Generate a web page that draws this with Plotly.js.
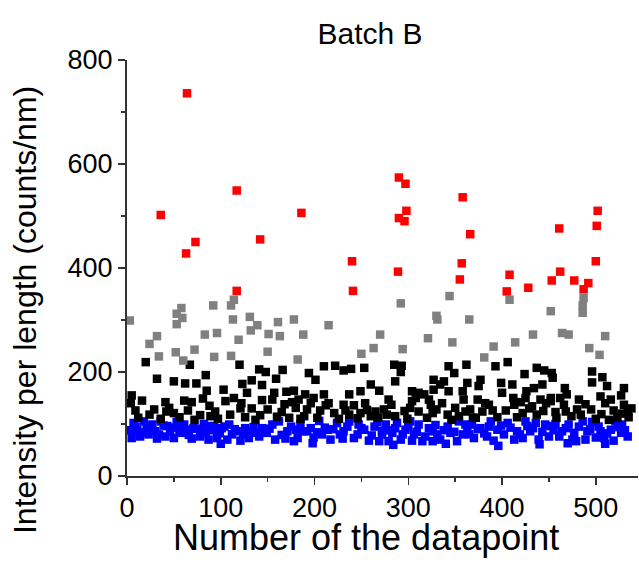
<!DOCTYPE html>
<html>
<head>
<meta charset="utf-8">
<script src="https://cdn.plot.ly/plotly-3.0.1.min.js"></script>
<style>html,body{margin:0;padding:0;background:#fff;}</style>
</head>
<body>
<div id="chart" style="width:639px;height:569px;"></div>
<script>
// Red points (highest intensities)
const redX = [64,117,36,186,73,142,63,240,117,241,290,297,298,290,296,358,366,289,357,355,408,461,502,501,500,462,453,477,492,487,405,428];
const redY = [736,549,502,506,450,455,428,413,356,356,574,562,510,496,490,536,465,393,409,378,387,476,510,481,413,393,376,376,371,359,355,362];

// Gray points
const grayX = [3,58,53,59,53,92,32,24,83,34,52,60,72,93,
  114,111,113,131,139,161,178,96,132,151,163,119,111,150,182,
  215,188,270,263,250,
  292,344,330,331,365,321,347,294,
  408,452,433,414,391,381,
  487,486,486,464,471,510,493,504];
const grayY = [299,323,312,304,292,328,269,254,272,230,238,222,243,229,
  339,328,301,306,290,296,301,275,280,273,269,262,231,239,224,
  290,272,272,246,235,
  332,346,308,301,301,265,257,244,
  339,317,272,257,249,228,
  342,328,314,275,272,269,246,233];

// Black points
const blackX = [20,67,32,50,62,74,84,85,5,4,9,29,41,61,69,81,42,50,78,89,
  120,141,148,166,159,123,133,144,103,128,157,170,178,105,122,144,155,176,94,121,133,142,165,173,
  210,222,231,239,253,194,201,260,249,237,190,199,210,269,183,215,231,242,254,180,192,206,221,233,249,265,189,260,
  285,293,292,286,343,349,362,327,338,334,343,327,304,311,317,358,279,304,322,336,350,359,274,302,324,311,326,342,286,361,
  393,406,424,437,445,453,363,377,375,399,411,426,434,443,374,412,425,441,452,386,413,432,447,379,390,404,422,372,429,
  454,496,496,507,512,467,530,469,505,516,527,452,466,482,530,457,468,480,495,506,519,534,484,535,514,
  12,16,24,36,45,56,65,72,88,97,110,114,126,137,150,160,168,185,196,203,212,226,237,246,256,268,
  277,282,296,299,308,320,330,346,354,366,369,382,395,400,416,420,437,444,458,462,474,489,500,510,523,528,538];
const blackY = [219,214,187,182,178,178,194,164,155,140,126,128,142,145,142,149,124,121,117,115,
  214,205,200,204,187,177,184,175,166,160,160,162,164,144,140,146,147,142,124,130,130,117,123,112,
  211,212,203,206,208,198,185,176,163,157,157,150,157,164,147,140,137,136,140,131,128,126,121,126,121,124,115,115,
  214,212,200,182,211,198,214,185,182,176,163,166,163,160,157,163,147,144,147,140,131,147,128,131,137,124,121,118,115,124,
  211,219,196,208,203,198,179,185,173,179,176,163,169,176,147,150,150,147,150,137,137,134,140,124,126,126,121,112,130,
  189,201,180,190,173,169,169,157,153,147,155,144,137,147,137,123,124,128,128,119,126,124,118,113,108,
  112,145,118,110,131,113,126,108,135,110,118,150,113,108,128,114,138,110,140,112,136,110,118,111,127,112,
  118,137,125,110,150,112,128,108,115,128,112,140,113,160,113,142,118,125,112,150,115,138,110,140,112,120,130];

// Blue points (lowest intensities)
const blueX = [7,18,27,36,43,53,61,71,82,89,5,14,23,32,41,50,59,69,78,87,11,30,46,64,84,
  93,101,109,117,126,137,144,155,162,171,180,96,107,121,130,141,149,158,169,178,112,132,
  185,205,224,237,247,267,192,214,231,253,272,182,199,217,230,242,258,269,208,246,
  276,288,302,311,326,354,361,272,283,297,306,318,331,345,358,279,292,304,315,334,352,326,
  368,388,406,425,436,446,363,377,395,416,430,452,370,384,402,413,422,439,391,450,
  457,471,486,496,521,528,464,477,491,505,516,527,534,461,475,489,500,509,519,479,
  3,9,16,21,25,34,39,48,56,66,75,80,91,99,104,115,124,135,147,152,165,175,188,196,203,211,220,227,235,250,
  261,264,279,286,294,300,309,322,329,338,342,349,365,374,381,386,399,409,419,427,433,443,455,468,482,494,503,512,524,531,
  100,198,284,340,396,440,470,510];
const blueY = [102,105,99,105,96,104,99,92,100,96,73,76,80,72,76,73,83,72,76,70,89,86,86,89,83,
  96,92,99,86,92,83,92,99,105,86,89,73,70,68,73,76,83,70,72,67,80,86,
  99,106,102,105,99,104,86,89,86,89,87,73,74,70,72,73,68,67,80,80,
  99,102,105,99,86,105,99,80,83,89,80,76,80,83,80,67,70,68,67,70,67,67,
  99,105,102,105,102,99,86,92,89,86,86,96,73,76,80,70,73,70,68,76,
  100,99,105,104,105,99,86,83,86,86,89,83,76,76,70,70,74,73,68,67,
  88,95,84,92,90,80,97,93,88,79,91,85,88,82,95,90,80,94,88,91,79,95,86,92,84,93,90,80,95,92,
  78,95,88,92,80,95,85,92,98,88,95,85,80,90,82,95,97,93,80,96,92,85,88,92,95,90,95,82,94,88,
  62,63,60,62,58,61,63,62];

const FONT = "'Liberation Sans', Arial, sans-serif";
const mk = (c) => ({symbol: 'square', size: 8.5, color: c, line: {width: 0}});

const traces = [
  {x: blueX, y: blueY, type: 'scatter', mode: 'markers', marker: mk('#0000ff'), name: 'blue'},
  {x: blackX, y: blackY, type: 'scatter', mode: 'markers', marker: mk('#000000'), name: 'black'},
  {x: grayX, y: grayY, type: 'scatter', mode: 'markers', marker: mk('#808080'), name: 'gray'},
  {x: redX, y: redY, type: 'scatter', mode: 'markers', marker: mk('#ff0000'), name: 'red'}
];

const axisCommon = {
  showgrid: false, zeroline: false,
  showline: true, linecolor: '#333', linewidth: 2,
  tickcolor: '#333', tickwidth: 1.5, ticklen: 7,
  tickfont: {family: FONT, size: 27, color: '#000'}
};

const layout = {
  width: 639, height: 569,
  margin: {l: 127, r: 1, t: 60, b: 93},
  paper_bgcolor: '#fff', plot_bgcolor: '#fff',
  showlegend: false,
  title: {text: 'Batch B', font: {family: FONT, size: 30, color: '#000'},
          xref: 'container', x: 0.579, xanchor: 'center',
          yref: 'container', y: 0.942, yanchor: 'middle'},
  xaxis: Object.assign({}, axisCommon, {
    range: [0, 545], dtick: 100, tick0: 0, ticks: 'outside',
    minor: {dtick: 50, ticks: 'outside', ticklen: 4, tickcolor: '#333', tickwidth: 1.5}
  }),
  yaxis: Object.assign({}, axisCommon, {
    range: [0, 800], dtick: 200, tick0: 0, ticks: 'outside',
    minor: {dtick: 100, ticks: 'outside', ticklen: 4, tickcolor: '#333', tickwidth: 1.5}
  }),
  xaxis2: {
    overlaying: 'x', side: 'top', anchor: 'y', range: [0, 545], dtick: 100, tick0: 0,
    showgrid: false, zeroline: false, showline: true, linecolor: '#333', linewidth: 2,
    ticks: 'inside', ticklen: 7, tickwidth: 1.5, tickcolor: '#333', showticklabels: false,
    minor: {dtick: 50, ticks: 'inside', ticklen: 4, tickcolor: '#333', tickwidth: 1.5}
  },
  yaxis2: {
    overlaying: 'y', side: 'right', anchor: 'x', range: [0, 800], dtick: 200, tick0: 0,
    showgrid: false, zeroline: false, showline: true, linecolor: '#333', linewidth: 2,
    ticks: 'inside', ticklen: 7, tickwidth: 1.5, tickcolor: '#333', showticklabels: false,
    minor: {dtick: 100, ticks: 'inside', ticklen: 4, tickcolor: '#333', tickwidth: 1.5}
  },
  annotations: [
    {text: 'Number of the datapoint', xref: 'paper', yref: 'paper', x: 0.468, y: -0.2,
     xanchor: 'center', yanchor: 'bottom', showarrow: false, borderpad: 0,
     font: {family: FONT, size: 36, color: '#000'}},
    {text: 'Intensity per length (counts/nm)', xref: 'paper', yref: 'paper', x: -0.1996, y: 0.399,
     xanchor: 'center', yanchor: 'middle', showarrow: false, textangle: -90,
     font: {family: FONT, size: 32, color: '#000'}}
  ]
};

Plotly.newPlot('chart', traces, layout, {displayModeBar: false, staticPlot: true});
</script>
</body>
</html>
